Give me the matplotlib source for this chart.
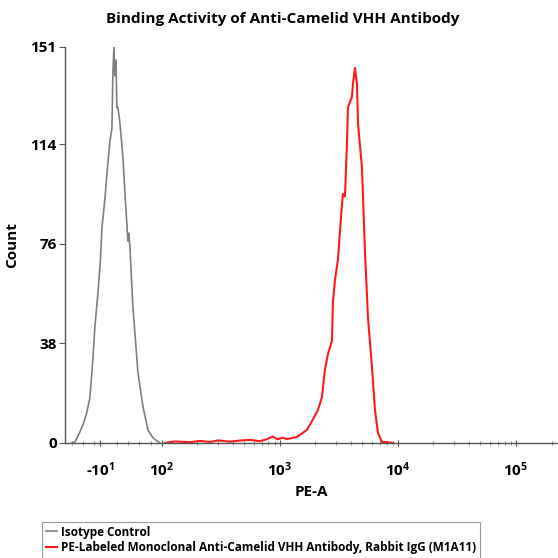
import matplotlib
matplotlib.use("Agg")
import matplotlib.pyplot as plt
import numpy as np

# PE-A intensity vs event count
gray_pe = [-60, -54, -46, -40, -34, -28, -25, -22.5, -19, -13.6, -9, -6.5, -1.2, 3,
           7.7, 11.3, 13, 14.8, 16.5, 18.4, 20, 21.9, 25.5, 30.8, 35, 39.7, 41, 43.2,
           48.5, 57.4, 66.3, 75.2, 84, 96.5]
gray_count = [0, 0.5, 4, 7, 11, 17, 25, 32, 44, 57, 70, 82, 93, 104,
              115, 120, 141, 151, 140, 146, 128, 128, 122, 109, 93, 77, 80, 75,
              52, 27, 14, 5, 2, 0]

red_pe = [106, 129, 173, 210, 255, 300, 377, 450, 557, 677, 780, 873, 950, 1050,
          1146, 1393, 1693, 1905, 2100, 2271, 2407, 2553, 2760, 2813, 2925, 3102,
          3353, 3420, 3556, 3697, 3770, 4076, 4156, 4321, 4493, 4584, 4955, 5250,
          5568, 6021, 6386, 6771, 7317, 8067, 9077]
red_count = [0, 0.6, 0.3, 0.8, 0.4, 1.0, 0.5, 0.9, 1.2, 0.7, 1.5, 2.5, 1.4, 2.0,
             1.5, 2.3, 5, 9, 12.6, 17.5, 28, 34, 39, 54, 62, 70,
             91, 95, 94, 114, 128, 132, 137, 143, 137, 122, 105, 73.5,
             48, 29, 12.6, 3.8, 0.4, 0.3, 0]

x_ticks = [-10, 100, 1000, 10000, 100000]
x_labels = [r"-$\mathbf{10^{1}}$", r"$\mathbf{10^{2}}$", r"$\mathbf{10^{3}}$",
            r"$\mathbf{10^{4}}$", r"$\mathbf{10^{5}}$"]
y_ticks = [0, 38, 76, 114, 151]

series_names = ["Isotype Control",
                "PE-Labeled Monoclonal Anti-Camelid VHH Antibody, Rabbit IgG (M1A11)"]

plt.rcParams["font.family"] = ["Open Sans", "DejaVu Sans"]
plt.rcParams["mathtext.fontset"] = "custom"
plt.rcParams["mathtext.rm"] = "Open Sans"
plt.rcParams["mathtext.bf"] = "Open Sans:bold"

# biexponential-like axis: linear below 100, log above
LIN_W = 209.5


def fwd(v):
    v = np.asarray(v, dtype=float)
    return np.where(v > 100, np.log10(np.clip(v, 100, None)), 2 + (v - 100) / LIN_W)


def inv(u):
    u = np.asarray(u, dtype=float)
    return np.where(u > 2, 10 ** np.clip(u, 2, 300), 100 + (u - 2) * LIN_W)


fig = plt.figure(figsize=(5.58, 5.58), dpi=100)
ax = fig.add_axes([65 / 558, 1 - 443 / 558, 1 - 65 / 558, 396 / 558])
ax.set_xscale("function", functions=(fwd, inv))

ax.plot(gray_pe, gray_count, color="#7f7f7f", lw=1.2)
ax.plot(red_pe, red_count, color="#ff1a1a", lw=1.5)

ax.set_xlim(-72, 227000)
ax.set_ylim(0, 151)

ax.set_xticks(x_ticks)
ax.set_xticklabels(x_labels, fontsize=11, fontweight="bold")
minor = [-60, -40, -20, 20, 40, 60, 80]
for d in [100, 1000, 10000, 100000]:
    minor += [m * d for m in range(2, 10) if m * d < 227000]
ax.set_xticks(minor, minor=True)
ax.set_yticks(y_ticks)
ax.set_yticklabels([str(t) for t in y_ticks], fontsize=11, fontweight="bold")

for s in ["top", "right"]:
    ax.spines[s].set_visible(False)
for s in ["left", "bottom"]:
    ax.spines[s].set_color("#555555")
    ax.spines[s].set_linewidth(1.0)
ax.tick_params(axis="x", which="major", direction="inout", length=5, color="#555555", pad=10)
ax.tick_params(axis="x", which="minor", direction="inout", length=3, color="#777777")
ax.tick_params(axis="y", direction="out", length=4, color="#555555", pad=2)

ax.set_xlabel("PE-A", fontsize=11, fontweight="bold", labelpad=4)
ax.set_ylabel("Count", fontsize=11, fontweight="bold", labelpad=8)
fig.text(0.507, 0.966, "Binding Activity of Anti-Camelid VHH Antibody",
         ha="center", va="center", fontsize=11, fontweight="bold")

handles = ax.get_lines()
leg = fig.legend(handles, series_names, loc="upper left",
                 bbox_to_anchor=(42 / 558, 1 - 522 / 558),
                 prop={"size": 8.5, "weight": "bold"}, handlelength=1.0,
                 handletextpad=0.3, borderaxespad=0, fancybox=False,
                 frameon=True, labelspacing=0.25, borderpad=0.3)
leg.get_frame().set_edgecolor("#808080")
leg.get_frame().set_linewidth(0.8)

fig.savefig("out.png", dpi=100)
